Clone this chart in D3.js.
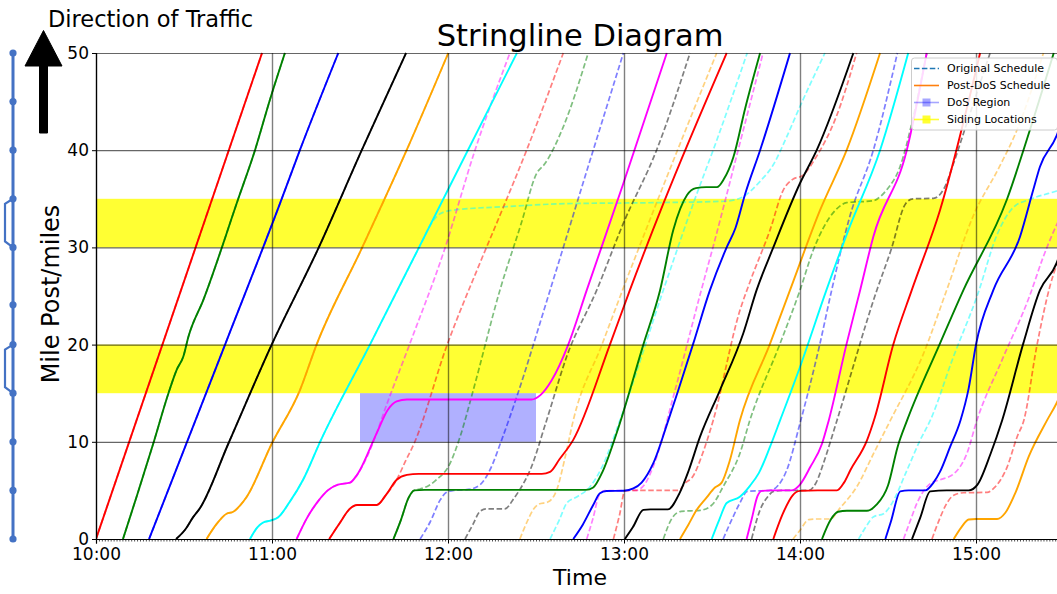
<!DOCTYPE html>
<html><head><meta charset="utf-8">
<script src="https://cdn.jsdelivr.net/npm/d3@7"></script>
<style>
body{margin:0;background:#fff}
svg{display:block}
text{font-family:"DejaVu Sans",sans-serif;fill:#000}
</style>
</head><body>
<svg id="chart" width="1057" height="594"></svg>
<script>
// ---------- DATA (time = minutes after 10:00, position = mile post) ----------
const trainColors = ["red","green","blue","black","orange","cyan","magenta",
  "red","green","blue","black","orange","cyan","magenta",
  "red","green","blue","black","orange","cyan","magenta","red"];

const postDosSchedule = [
  [[0,0],[56.6,50]],
  [[9.2,0],[14,4.5],[19.5,9.8],[24.7,15],[27.5,17.4],[29.8,18.8],[31.5,20.8],[36.6,24.6],[48.5,35],[54.2,40],[59.3,45.2],[64.4,50]],
  [[18.1,0],[44,20],[62.7,34.5],[69.5,40],[82.6,50]],
  [[27.3,0],[30.5,1],[33,2.2],[35.5,3.2],[45.1,9.8],[59.9,20],[75.8,29.9],[90.6,40],[105.7,50]],
  [[37.7,0],[41,1.5],[44.5,2.6],[46.8,2.8],[49,3.4],[51.4,4.35],[59.9,9.8],[69.5,15.3],[75.2,20],[90.6,29.9],[105.9,40],[120.1,50]],
  [[52.5,0],[55,1.2],[57,1.7],[59.5,1.9],[62,2.2],[66,3.8],[70.6,6.1],[76.4,10],[93.4,20],[119.6,35.7],[143.5,50]],
  [[68.4,0],[72,2.2],[76,4],[79,5],[82.5,5.6],[86.6,5.8],[89,6.6],[95.7,10.9],[99.5,13.3],[102.5,14.15],[106,14.35],[148.5,14.35],[151.5,14.8],[155.3,16.3],[161,20],[167.3,25.6],[179.8,36.6],[194.6,50]],
  [[79.5,0],[83,1.6],[86.5,3.1],[89,3.5],[95.7,3.5],[99,4.6],[102.5,6.1],[106,6.6],[110,6.7],[152,6.7],[154.8,6.9],[158,8.2],[162.7,10.2],[175.2,20],[182,25.6],[193.4,34.5],[215,50]],
  [[101.4,0],[104,2],[106.5,4.2],[108.5,5],[112,5.05],[167,5.05],[169.5,5.3],[172.5,6.8],[177.5,10.9],[186.6,20],[192.3,25.6],[196.8,31.8],[201.5,35.4],[204.5,36.1],[208,36.2],[211.7,36.2],[214,37],[217.3,39.3],[221.3,44.3],[226.4,50]],
  [[162.7,0],[166,1.5],[169.5,3.5],[171.8,4.7],[174,4.94],[180,4.97],[183.2,5.2],[186,5.8],[190,7.8],[195.1,12.2],[198.5,15.3],[203.6,20.1],[209.3,25.6],[215,30],[218,32],[221.3,35.5],[226.4,40],[236.6,50]],
  [[180.3,0],[183,1.2],[186.6,3.0],[189,3.05],[195,3.05],[198.9,4.7],[202,7],[205.9,10.5],[212.7,15.3],[220.7,21.2],[225.2,25.6],[230.9,30],[240,36.6],[245.7,40],[258.2,50]],
  [[199.1,0],[202,1.5],[204.8,3],[208,4.2],[211,5.3],[213.3,5.8],[216,8],[219.5,12.2],[229.8,20.1],[236.6,25.6],[246.8,33.8],[255.9,40],[267.3,50]],
  [[209.9,0],[212.5,2],[215,3.7],[219.5,4.35],[223,5.5],[226,6.8],[229.8,9.5],[233.2,12.2],[240,17.7],[249,25.6],[256,31.4],[267.3,40],[276.9,50]],
  [[221.8,0],[223.5,2],[225.5,4.4],[227,4.95],[230,5.0],[237,5.0],[240,5.6],[243.5,7.4],[247.5,9.8],[249.8,12.2],[255.9,20.1],[260.5,25.6],[265,31.1],[276.4,40],[283.2,50]],
  [[230.9,0],[234,2.5],[237.5,4.5],[240,4.95],[246,5.0],[252.6,5.0],[255,5.8],[257.2,7.1],[262.9,10.2],[265.5,12.5],[271.8,20],[278.1,25.6],[287.7,33.8],[301.4,50]],
  [[247.5,0],[250.5,2],[253,2.8],[256,2.9],[262.8,2.9],[266,3.5],[270,5.5],[273.3,9.5],[276.5,12.2],[287.7,20.1],[295.7,25.6],[310.5,34.9],[318.4,42.1],[326.5,50]],
  [[269.1,0],[271,1.8],[274.2,4.9],[277,5.0],[282.7,5.0],[285.5,5.8],[287.7,6.9],[291.2,9.5],[294.7,12.2],[297.5,15.5],[300,20],[305.9,25.6],[315,31.1],[319.5,35.9],[321.8,38.3],[327.5,41.5],[333,47]],
  [[278.2,0],[281,2.2],[284.4,4.9],[290,5.0],[297.5,5.0],[300.5,5.6],[305,8.8],[308.9,12.2],[316.1,20.1],[321.8,25.6],[327.5,28.4],[332,33]],
  [[292.4,0],[295,1.2],[297.5,2],[300,2.06],[307.2,2.06],[310,2.7],[313.5,4.8],[318,8.5],[324.2,12.2],[327.5,14],[335,20]],
  [],
  [],
  []
];

const originalSchedule = [
  [[0,0],[56.6,50]],
  [[9.2,0],[14,4.5],[19.5,9.8],[24.7,15],[27.5,17.4],[29.8,18.8],[31.5,20.8],[36.6,24.6],[48.5,35],[54.2,40],[59.3,45.2],[64.4,50]],
  [[18.1,0],[44,20],[62.7,34.5],[69.5,40],[82.6,50]],
  [[27.3,0],[30.5,1],[33,2.2],[35.5,3.2],[45.1,9.8],[59.9,20],[75.8,29.9],[90.6,40],[105.7,50]],
  [[37.7,0],[41,1.5],[44.5,2.6],[46.8,2.8],[49,3.4],[51.4,4.35],[59.9,9.8],[69.5,15.3],[75.2,20],[90.6,29.9],[105.9,40],[120.1,50]],
  [[52.5,0],[55,1.2],[57,1.7],[59.5,1.9],[62,2.2],[66,3.8],[70.6,6.1],[76.4,10],[93.4,20],[110.5,30.2],[114,32.3],[117,33.4],[121,33.8],[140,34.2],[160,34.5],[190,34.6],[214,34.75],[219.5,35.05],[226.4,36.8],[230.9,38.5],[235.5,41.4],[240,44.5],[248.5,50]],
  [[68.4,0],[72,2.2],[76,4],[79,5],[82.5,5.6],[86.6,5.8],[89,6.6],[95.7,10.9],[98,12.9],[107,20.1],[118.5,29.5],[129.2,40],[141.1,50]],
  [[79.5,0],[83,1.6],[86.5,3.1],[89,3.5],[95.7,3.5],[99,4.6],[102.5,6.1],[105.5,8],[108.4,9.8],[119.5,19.8],[130.9,28.4],[136.6,32.5],[146.8,40],[159.3,50]],
  [[101.4,0],[104,2],[106.5,4.2],[108.5,5],[110.5,5.15],[113.5,5.5],[116.1,6.1],[120.4,7.6],[124.1,10.5],[128.6,15.3],[137.7,25.6],[145,32.5],[150.2,37.6],[153,38.6],[159.3,42.4],[167.8,50]],
  [[110.5,0],[114,1.8],[117.3,4.0],[119.5,4.8],[122,5.0],[127,5.1],[131,5.6],[134.3,7.1],[138.3,10.2],[143.4,14.6],[154.8,25.6],[169.5,40],[179.8,50]],
  [[125.8,0],[128.5,1.5],[130.8,2.8],[133,3.1],[139.4,3.1],[142.5,4.2],[145.7,5.7],[148,7.1],[153.6,12.2],[160.5,18.8],[170.7,25.6],[179.8,32.5],[191.1,40],[202.5,50]],
  [[144.5,0],[147,1.8],[149,3],[151,3.6],[154,3.8],[157,5],[160,8.5],[162.7,12.2],[172.5,20],[179.5,25.6],[191,34.5],[211.6,50]],
  [[154.8,0],[158,2],[160.5,3.7],[164,4.35],[168.5,5.4],[172.5,7.4],[178.6,12.2],[193.4,25.6],[203.6,34.5],[211.6,41],[222,50]],
  [[167.3,0],[169.5,2.2],[171.5,4.5],[173.5,4.97],[184,5.0],[187,5.6],[190,7.5],[197.4,15.3],[205.9,25.1],[210.4,30.1],[219.5,40.7],[227.4,50]],
  [[176.4,0],[178.5,2.5],[180.3,4.94],[183,5.0],[198.5,5.0],[201,5.8],[203.4,6.4],[206.8,8.8],[210.4,12.2],[219.5,23.5],[223,26.5],[229.8,31.8],[234.3,35.9],[237.5,37.0],[240.9,37.4],[245.5,39.3],[252.3,43.4],[259.3,50]],
  [[193.4,0],[196.5,2.2],[199.5,2.85],[206,2.95],[210,3.5],[214,5.5],[219.5,8.8],[222.9,12.2],[233.2,20.1],[240,25.6],[244.5,29.7],[252,33.8],[255.9,34.6],[265,34.8],[267.3,35.2],[269.5,35.9],[274.1,38.3],[278.6,43.4],[283.2,50]],
  [[213.8,0],[216,1.5],[219.5,3.7],[222,4.9],[230,5.0],[232.5,5.5],[235.5,7.1],[240,11.9],[246.8,20.1],[250.8,25.6],[257,33.2],[265,40],[273.2,50]],
  [[223.5,0],[226.4,3],[229,4.35],[231,4.9],[235,5.0],[243,5.0],[245.5,5.8],[248,7.8],[252.6,12.2],[266.2,25.6],[271,29.7],[276,34.5],[278.5,35.0],[285.5,35.05],[289,36.0],[292.3,38.6],[295.7,41.7],[304.8,50]],
  [[237.6,0],[240,0.9],[243,2],[246,2.06],[250.3,2.06],[253.7,3.2],[259.4,5.4],[265.1,8.8],[270.8,12.2],[282,19],[290,25.6],[299,33.2],[308,38.3],[314,42.1],[323,50]],
  [[260,0],[263,1.5],[265.1,2.3],[268.5,2.6],[271,3.5],[276.5,7.1],[281,10.2],[284.4,12.2],[292,18.5],[300.5,25.1],[307.3,31.4],[313,34.2],[318,34.9],[327.5,35.8],[335,36.5]],
  [[275.3,0],[277.5,1.8],[279.9,3.7],[284.4,5.7],[287.8,6.1],[292.4,6.7],[296.9,8.8],[300.3,12.2],[309,18.5],[318.4,25.1],[322.9,29],[326.4,31.6],[332,35]],
  [[285,0],[287.5,2],[290.1,3.7],[292.4,4.5],[295.8,4.76],[303.8,4.8],[306,5.2],[310.6,7.4],[314,10.5],[316.3,12.2],[320.7,19.8],[325.2,26],[330,30]]
];

const sidingLocations = [[15,20],[30,35]];     // mile ranges
const dosTime = [90,150];                       // 11:30 - 12:30
const dosMiles = [10,15];
const yTickValues = [0,10,20,30,40,50];
const xTickMinutes = [0,60,120,180,240,300];    // 10:00 ... 15:00
const trackStations = [0,5,10,15,20,24.1,30,35,40,45,50];
const legendLabels = ["Original Schedule","Post-DoS Schedule","DoS Region","Siding Locations"];

// ---------- DRAWING ----------
const svg = d3.select("#chart");
const L = 96, R = 1064, T = 53, B = 539;
const base = new Date(2020,0,1,10,0,0);
const toDate = mm => new Date(base.getTime() + mm*60000);
const x = d3.scaleTime().domain([toDate(0), toDate(330)]).range([L,R]);
const y = d3.scaleLinear().domain([0,50]).range([B,T]);
const xm = d => x(toDate(d));

svg.append("defs").append("clipPath").attr("id","clip")
  .append("rect").attr("x",L).attr("y",T-1).attr("width",R-L).attr("height",B-T+1);

const plot = svg.append("g").attr("clip-path","url(#clip)");

// siding bands
sidingLocations.forEach(([a,b]) => {
  plot.append("rect").attr("x",L).attr("width",R-L)
    .attr("y",y(b)).attr("height",y(a)-y(b))
    .attr("fill","#ffff00").attr("fill-opacity",0.8);
});
// DoS region
plot.append("rect")
  .attr("x",xm(dosTime[0])).attr("width",xm(dosTime[1])-xm(dosTime[0]))
  .attr("y",y(dosMiles[1])).attr("height",y(dosMiles[0])-y(dosMiles[1]))
  .attr("fill","#0000ff").attr("fill-opacity",0.31);

// grid
const gridX = svg.append("g").attr("transform",`translate(0,${B})`)
  .call(d3.axisBottom(x).tickValues(xTickMinutes.map(toDate)).tickSize(-(B-T)).tickFormat(""));
gridX.select(".domain").remove();
gridX.selectAll("line").attr("stroke","#000").attr("stroke-opacity",0.5).attr("stroke-width",1.4);
const gridY = svg.append("g").attr("transform",`translate(${L},0)`)
  .call(d3.axisLeft(y).tickValues(yTickValues).tickSize(-(R-L)).tickFormat(""));
gridY.select(".domain").remove();
gridY.selectAll("line").attr("stroke","#000").attr("stroke-opacity",0.6).attr("stroke-width",1.2);

// train lines
const line = d3.line().x(d => xm(d[0])).y(d => y(d[1])).curve(d3.curveMonotoneX);
const dashedG = plot.append("g");
const solidG = plot.append("g");
originalSchedule.forEach((pts,i) => {
  if (!pts.length) return;
  dashedG.append("path").attr("d",line(pts)).attr("fill","none")
    .attr("stroke",trainColors[i]).attr("stroke-width",1.7)
    .attr("stroke-opacity",0.5).attr("stroke-dasharray","5.5,2.6");
});
postDosSchedule.forEach((pts,i) => {
  if (!pts.length) return;
  solidG.append("path").attr("d",line(pts)).attr("fill","none")
    .attr("stroke",trainColors[i]).attr("stroke-width",1.9);
});

// axes
const xAxisMinor = svg.append("g").attr("transform",`translate(0,${B})`)
  .call(d3.axisBottom(x).tickValues(d3.range(0,331,1).map(toDate)).tickSize(2.5).tickFormat(""));
xAxisMinor.select(".domain").remove();
xAxisMinor.selectAll("line").attr("stroke","#000").attr("stroke-width",0.7);

const xAxis = svg.append("g").attr("transform",`translate(0,${B})`)
  .call(d3.axisBottom(x).tickValues(xTickMinutes.map(toDate)).tickSize(4.5).tickPadding(4)
    .tickFormat(d3.timeFormat("%H:%M")));
xAxis.select(".domain").attr("stroke","#000").attr("stroke-width",1.2);
xAxis.selectAll("text").style("font-size","17px").style("font-family","DejaVu Sans");

const yAxis = svg.append("g").attr("transform",`translate(${L},0)`)
  .call(d3.axisLeft(y).tickValues(yTickValues).tickSize(4).tickPadding(3));
yAxis.select(".domain").attr("stroke","#000").attr("stroke-width",1.2);
yAxis.selectAll("text").style("font-size","17px").style("font-family","DejaVu Sans");

// titles
svg.append("text").attr("x",(L+R)/2).attr("y",46).attr("text-anchor","middle")
  .style("font-size","30.5px").text("Stringline Diagram");
svg.append("text").attr("x",(L+R)/2).attr("y",585).attr("text-anchor","middle")
  .style("font-size","22px").text("Time");
svg.append("text").attr("transform",`translate(59,${(T+B)/2 - 2}) rotate(-90)`).attr("text-anchor","middle")
  .style("font-size","24px").text("Mile Post/miles");
svg.append("text").attr("x",48).attr("y",27).style("font-size","22.5px").text("Direction of Traffic");

// direction arrow
svg.append("path")
  .attr("d","M39.5,133 L39.5,66 L25,66 L43.5,30.5 L62,66 L47.5,66 L47.5,133 Z")
  .attr("fill","#000").attr("stroke","#000").attr("stroke-width",1).attr("stroke-linejoin","round");

// track diagram
const trackX = 13, sidingX = 5;
const track = svg.append("g").attr("stroke","#4472c4").attr("fill","none").attr("stroke-width",3);
track.append("line").attr("x1",trackX).attr("x2",trackX).attr("y1",y(50)).attr("y2",y(0));
sidingLocations.forEach(([a,b]) => {
  track.append("path").attr("d",
    `M${trackX},${y(b)} L${sidingX},${y(b)+5} L${sidingX},${y(a)-6} L${trackX},${y(a)}`)
    .attr("stroke-width",2.2);
});
svg.append("g").selectAll("circle").data(trackStations).join("circle")
  .attr("cx",trackX).attr("cy",d => y(d)).attr("r",3.6).attr("fill","#4472c4");

// legend
const lg = svg.append("g");
lg.append("rect").attr("x",911.5).attr("y",58).attr("width",146).attr("height",72).attr("rx",3)
  .attr("fill","#fff").attr("fill-opacity",0.85).attr("stroke","#ccc").attr("stroke-width",1);
const rowY = [68.5,85.5,102.5,119.5];
const hx0 = 914, hx1 = 939;
lg.append("line").attr("x1",hx0).attr("x2",hx1).attr("y1",rowY[0]).attr("y2",rowY[0])
  .attr("stroke","#1f77b4").attr("stroke-width",1.6).attr("stroke-dasharray","5.5,2.4");
lg.append("line").attr("x1",hx0).attr("x2",hx1).attr("y1",rowY[1]).attr("y2",rowY[1])
  .attr("stroke","#ff7f0e").attr("stroke-width",1.6);
lg.append("line").attr("x1",hx0).attr("x2",hx1).attr("y1",rowY[2]).attr("y2",rowY[2])
  .attr("stroke","#0000ff").attr("stroke-opacity",0.35).attr("stroke-width",1.6);
lg.append("rect").attr("x",(hx0+hx1)/2-4).attr("y",rowY[2]-4).attr("width",8).attr("height",8)
  .attr("fill","#0000ff").attr("fill-opacity",0.35);
lg.append("line").attr("x1",hx0).attr("x2",hx1).attr("y1",rowY[3]).attr("y2",rowY[3])
  .attr("stroke","#ffff00").attr("stroke-opacity",0.8).attr("stroke-width",1.6);
lg.append("rect").attr("x",(hx0+hx1)/2-4).attr("y",rowY[3]-4).attr("width",8).attr("height",8)
  .attr("fill","#ffff00").attr("fill-opacity",0.8);
legendLabels.forEach((t,i) => {
  lg.append("text").attr("x",947).attr("y",rowY[i]).attr("dy","0.35em")
    .style("font-size","11px").text(t);
});
</script>
</body></html>
